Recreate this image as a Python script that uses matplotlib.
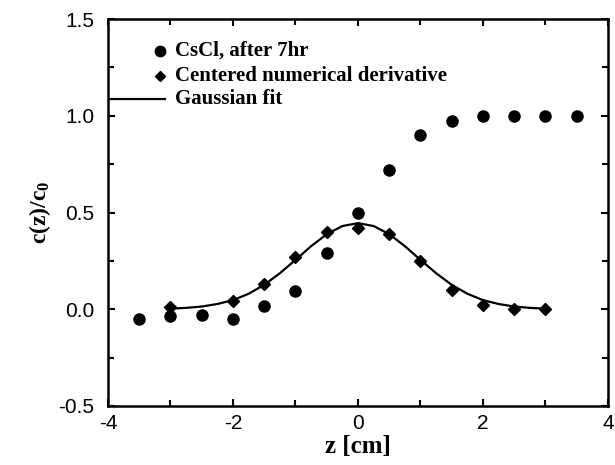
import matplotlib
matplotlib.use('Agg')
import matplotlib.pyplot as plt
import numpy as np
from matplotlib.ticker import MultipleLocator

plt.rcParams['axes.unicode_minus'] = False
plt.rcParams['mathtext.fontset'] = 'custom'
plt.rcParams['mathtext.rm'] = 'Liberation Serif:bold'
plt.rcParams['mathtext.it'] = 'Liberation Serif:bold'
plt.rcParams['mathtext.bf'] = 'Liberation Serif:bold'

# measured concentration profile
z_cscl = [-3.5, -3.0, -2.5, -2.0, -1.5, -1.0, -0.5, 0.0, 0.5, 1.0, 1.5, 2.0, 2.5, 3.0, 3.5]
c_cscl = [-0.048, -0.036, -0.03, -0.048, 0.015, 0.094, 0.29, 0.50, 0.72, 0.90, 0.975, 1.0, 1.0, 1.0, 1.0]

# centered numerical derivative
z_deriv = [-3.0, -2.0, -1.5, -1.0, -0.5, 0.0, 0.5, 1.0, 1.5, 2.0, 2.5, 3.0]
c_deriv = [0.009, 0.043, 0.13, 0.27, 0.40, 0.42, 0.39, 0.25, 0.10, 0.02, 0.0, 0.0]

# gaussian fit curve
z_fit = [-3.0, -2.75, -2.5, -2.25, -2.0, -1.75, -1.5, -1.25, -1.0, -0.75, -0.5, -0.25, 0.0,
         0.25, 0.5, 0.75, 1.0, 1.25, 1.5, 1.75, 2.0, 2.25, 2.5, 2.75, 3.0]
c_fit = [0.003, 0.007, 0.014, 0.027, 0.047, 0.08, 0.126, 0.186, 0.255, 0.326, 0.388, 0.43, 0.445,
         0.43, 0.388, 0.326, 0.255, 0.186, 0.126, 0.08, 0.047, 0.027, 0.014, 0.007, 0.003]

legend_labels = ['CsCl, after 7hr', 'Centered numerical derivative', 'Gaussian fit']

sans = 'Liberation Sans'
serif = 'Liberation Serif'

fig = plt.figure(figsize=(6.15, 4.65), dpi=100)
ax = fig.add_axes([0.1756, 0.127, 0.813, 0.832])

ax.plot(z_fit, c_fit, color='black', lw=1.6, zorder=2)
ax.plot(z_deriv, c_deriv, 'D', color='black', ms=6.5, zorder=3)
ax.plot(z_cscl, c_cscl, 'o', color='black', ms=8, zorder=3)

ax.set_xlim(-4, 4)
ax.set_ylim(-0.5, 1.5)
ax.xaxis.set_major_locator(MultipleLocator(2))
ax.xaxis.set_minor_locator(MultipleLocator(1))
ax.yaxis.set_major_locator(MultipleLocator(0.5))
ax.yaxis.set_minor_locator(MultipleLocator(0.25))
ax.tick_params(which='both', direction='in', top=True, right=True, width=1.5)
ax.tick_params(which='major', length=5)
ax.tick_params(which='minor', length=4)
ax.tick_params(axis='x', pad=6)
ax.tick_params(axis='y', pad=10)
ax.set_yticks([-0.5, 0.0, 0.5, 1.0, 1.5])
ax.set_yticklabels(['-0.5', '0.0', '0.5', '1.0', '1.5'])
for lab in ax.get_xticklabels() + ax.get_yticklabels():
    lab.set_fontfamily(sans)
    lab.set_fontsize(15)
for s in ax.spines.values():
    s.set_linewidth(1.8)

ax.set_xlabel('z [cm]', fontfamily=serif, fontweight='bold', fontsize=18, labelpad=1)
ax.set_ylabel('c(z)/c$_0$', fontfamily=serif, fontweight='bold', fontsize=17, labelpad=4)

# hand-drawn legend
rows = [0.918, 0.853, 0.794]
tr = ax.transAxes
ax.plot([0.104], [rows[0]], 'o', color='black', ms=7.5, transform=tr, clip_on=False)
ax.plot([0.104], [rows[1]], 'D', color='black', ms=5.5, transform=tr, clip_on=False)
ax.plot([0.0, 0.114], [rows[2], rows[2]], color='black', lw=1.6, transform=tr)
for r, t in zip(rows, legend_labels):
    ax.text(0.135, r, t, transform=tr, fontfamily=serif, fontweight='bold',
            fontsize=15, va='center', ha='left')

fig.savefig('out.png', dpi=100)
